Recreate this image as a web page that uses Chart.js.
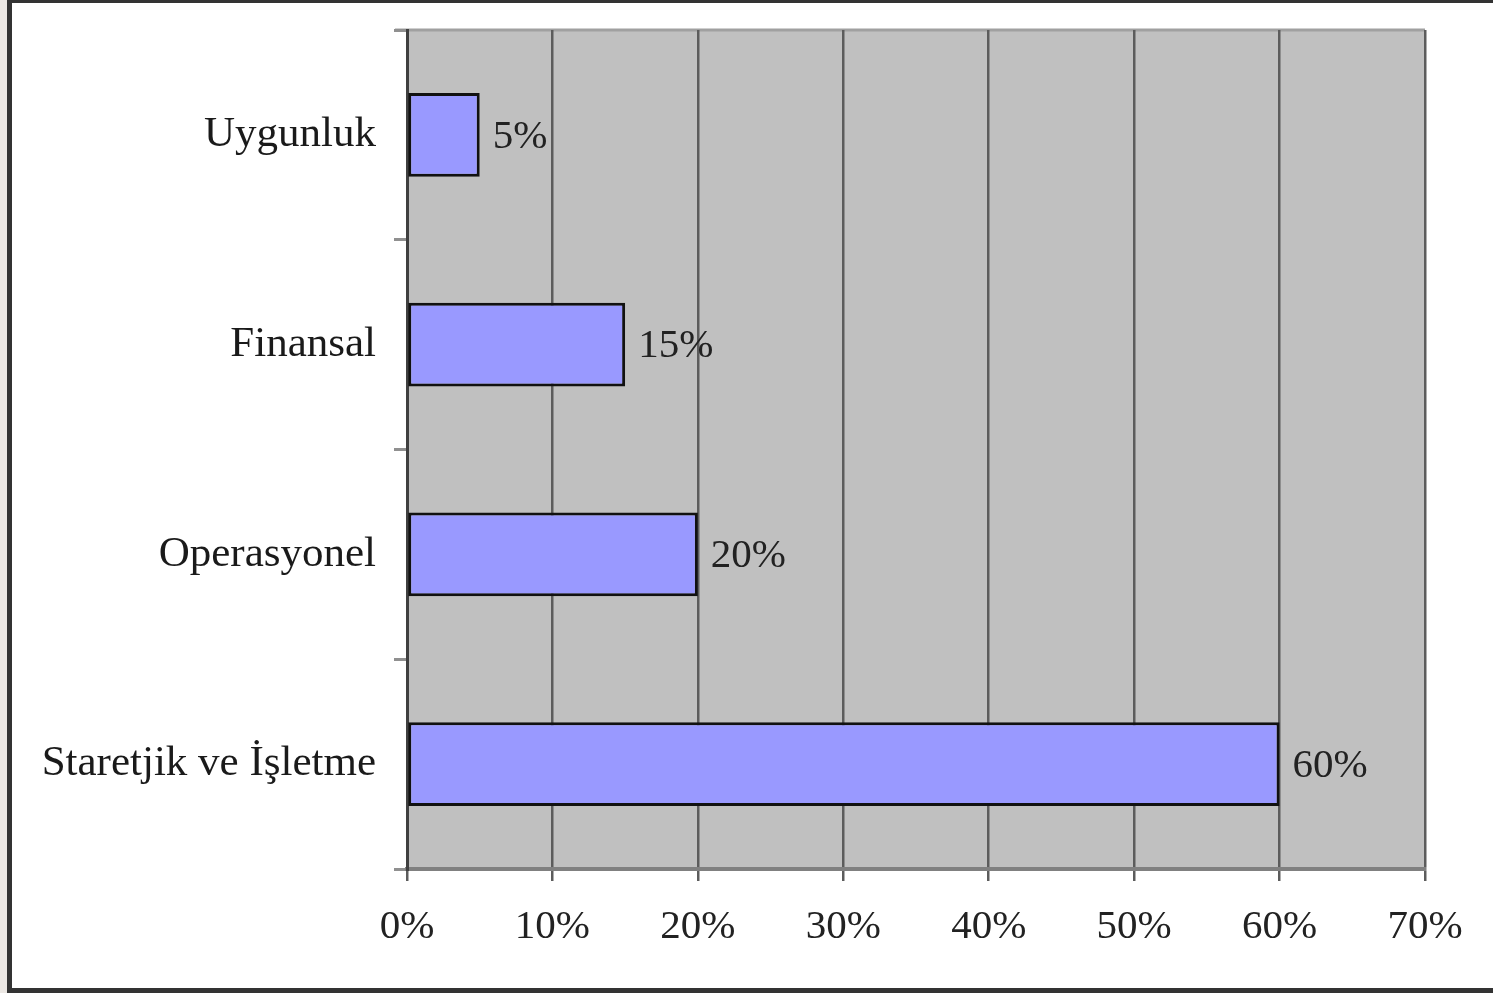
<!DOCTYPE html>
<html>
<head>
<meta charset="utf-8">
<script src="https://cdn.jsdelivr.net/npm/chart.js@4.4.1/dist/chart.umd.min.js"></script>
<style>
	html, body { margin: 0; padding: 0; background: #ece8e4; overflow: hidden; }
	.frame {
		position: absolute; left: 7px; top: -2px; width: 1600px; height: 995px;
		box-sizing: border-box; border: 5px solid #333; background: #fff;
	}
	.wrap { position: absolute; left: 0; top: 0; width: 1493px; height: 993px; }
</style>
</head>
<body>
<div class="frame"></div>
<div class="wrap"><canvas id="riskChart"></canvas></div>
<script>
const categories = ["Uygunluk", "Finansal", "Operasyonel", "Staretjik ve İşletme"];
const shares = [5, 15, 20, 60];
const tickMax = 70;
const tickStep = 10;

// gray plot background + top edge
const plotBg = {
	id: "plotBg",
	beforeDraw(chart) {
		const { ctx, chartArea: a } = chart;
		ctx.save();
		ctx.fillStyle = "#c0c0c0";
		ctx.fillRect(a.left, a.top, a.right - a.left, a.bottom - a.top);
		ctx.strokeStyle = "#a0a0a0";
		ctx.lineWidth = 3;
		ctx.beginPath();
		ctx.moveTo(a.left - 12, a.top);
		ctx.lineTo(a.right, a.top);
		ctx.stroke();
		ctx.restore();
	},
};

// value labels at the end of every bar
const barLabels = {
	id: "barLabels",
	afterDatasetsDraw(chart) {
		const { ctx } = chart;
		const meta = chart.getDatasetMeta(0);
		ctx.save();
		ctx.font = "41px 'Liberation Serif'";
		ctx.fillStyle = "#222";
		ctx.textAlign = "left";
		ctx.textBaseline = "middle";
		meta.data.forEach((bar, i) => {
			ctx.fillText(shares[i] + "%", bar.x + 13, bar.y + 2);
		});
		ctx.restore();
	},
};

const config = {
	type: "bar",
	data: {
		labels: categories,
		datasets: [
			{
				data: shares,
				backgroundColor: "#9999ff",
				borderColor: "#111",
				borderWidth: 3,
				borderSkipped: false,
				barPercentage: 0.8,
				categoryPercentage: 0.5,
			},
		],
	},
	options: {
		indexAxis: "y",
		responsive: true,
		maintainAspectRatio: false,
		animation: false,
		layout: { padding: { top: 30, right: 68, left: 0, bottom: 0 } },
		plugins: {
			legend: { display: false },
			tooltip: { enabled: false },
		},
		scales: {
			x: {
				min: 0,
				max: tickMax,
				ticks: {
					stepSize: tickStep,
					padding: 22,
					color: "#222",
					font: { family: "Liberation Serif", size: 41 },
					callback: (v) => v + "%",
				},
				grid: {
					color: "#5c5c5c",
					lineWidth: 2.5,
					tickLength: 12,
					tickColor: "#5c5c5c",
				},
				border: { color: "#808080", width: 4 },
				afterFit: (scale) => {
					scale.height = 124;
				},
			},
			y: {
				ticks: {
					padding: 18,
					color: "#1a1a1a",
					font: { family: "Liberation Serif", size: 43 },
				},
				grid: {
					drawOnChartArea: false,
					tickLength: 13,
					tickColor: "#909090",
					lineWidth: 3,
				},
				border: { color: "#404040", width: 3 },
				afterFit: (scale) => {
					scale.width = 407;
					scale.paddingTop = 0;
					scale.paddingBottom = 0;
				},
			},
		},
	},
	plugins: [plotBg, barLabels],
};

new Chart(document.getElementById("riskChart"), config);
</script>
</body>
</html>
